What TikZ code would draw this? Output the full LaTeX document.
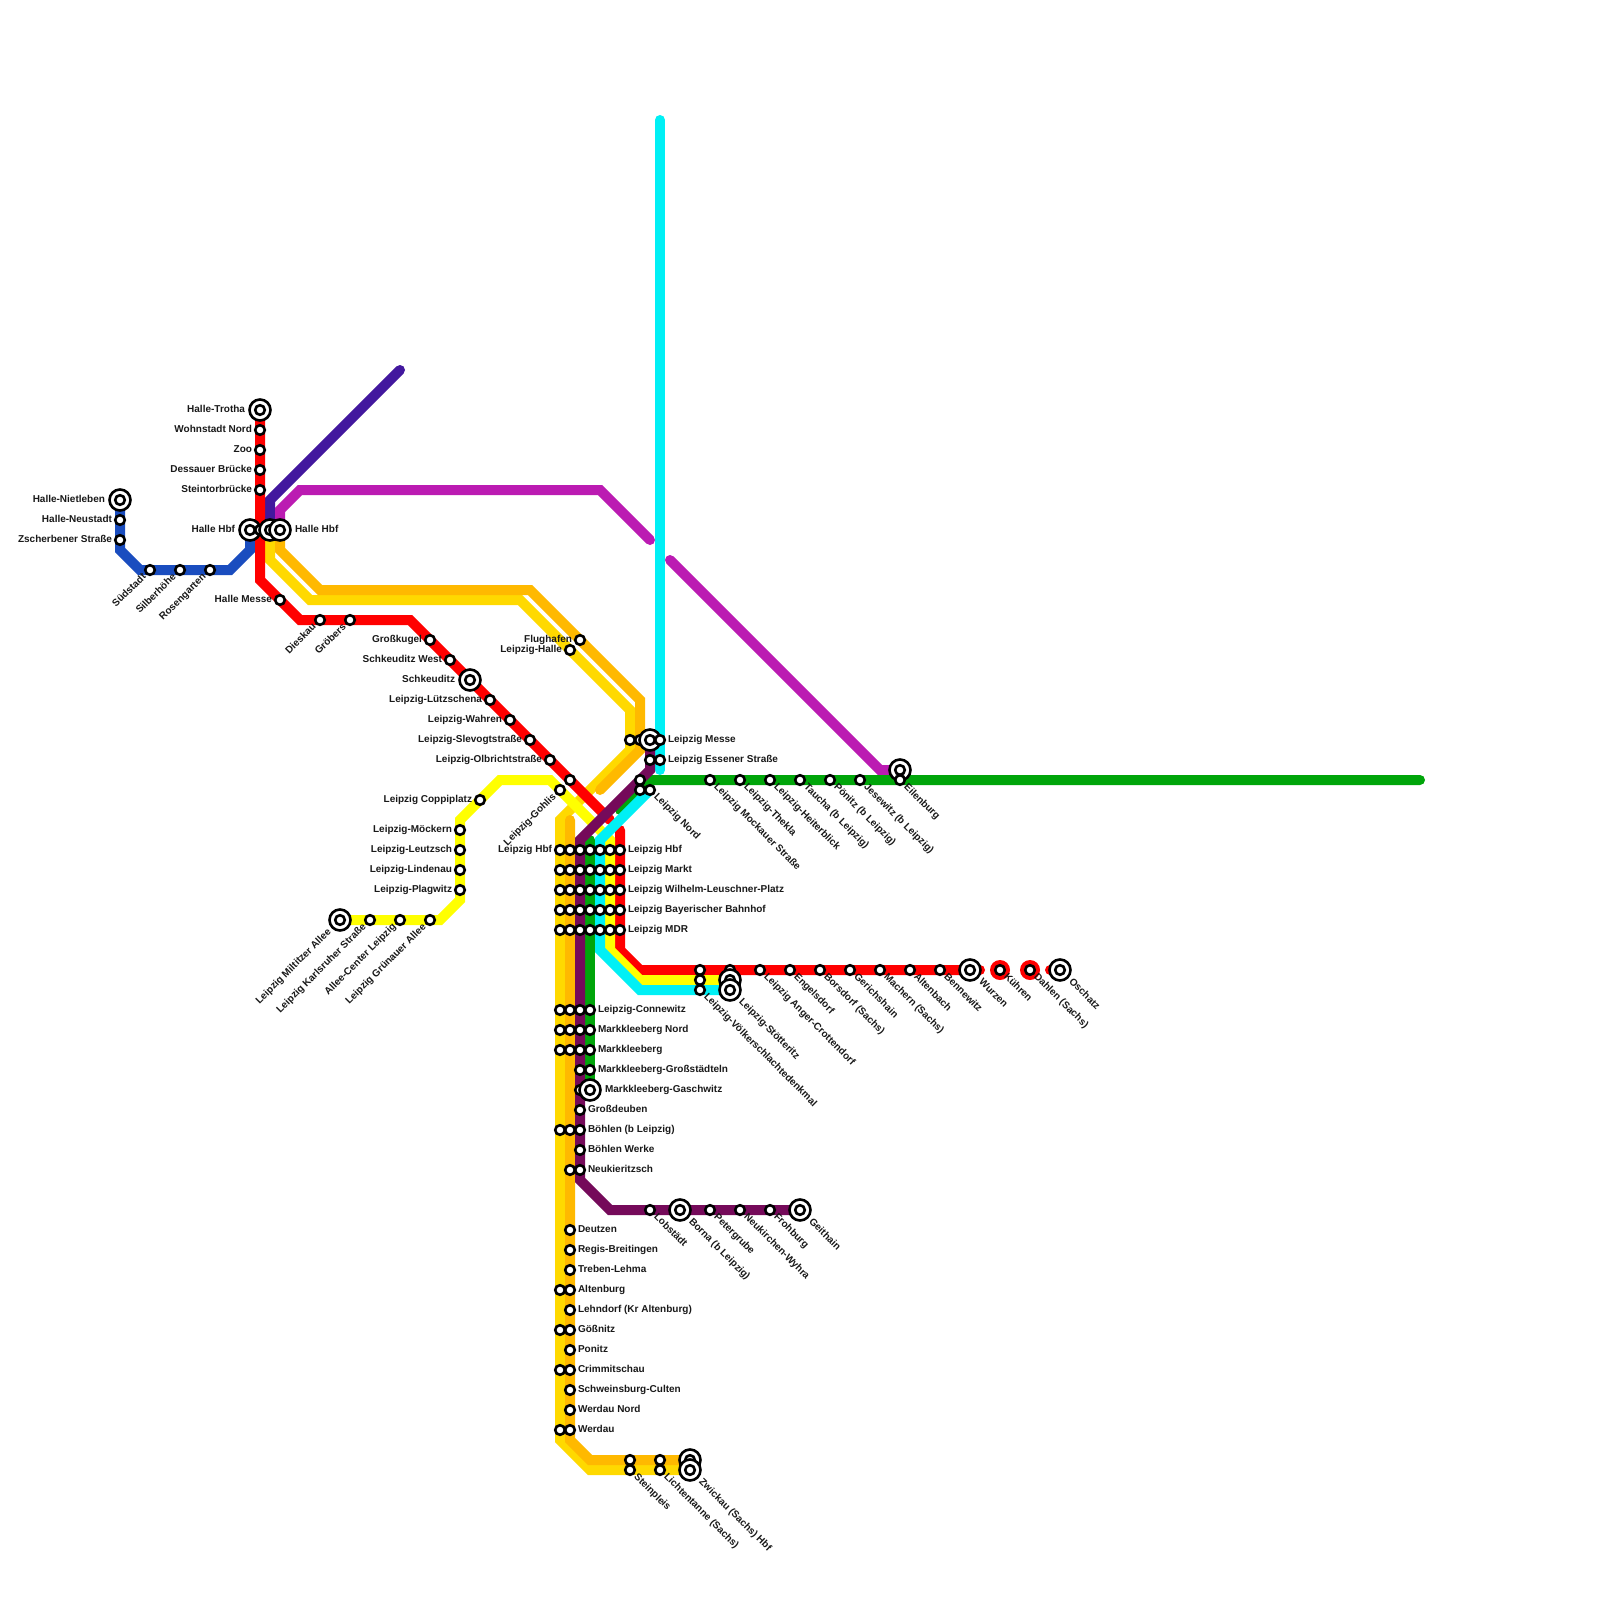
\documentclass[tikz,border=0pt]{standalone}
\usepackage{fontspec}
\setmainfont{Liberation Sans}
\definecolor{cred}{HTML}{FF0000}
\definecolor{cgold}{HTML}{FFD900}
\definecolor{camber}{HTML}{FFB900}
\definecolor{cyel}{HTML}{FFFF00}
\definecolor{ccyan}{HTML}{00F0F5}
\definecolor{cgreen}{HTML}{00A50A}
\definecolor{cpurp}{HTML}{750A5A}
\definecolor{cmag}{HTML}{BB1BB2}
\definecolor{cind}{HTML}{42189E}
\definecolor{cblue}{HTML}{1A4DBF}
\tikzset{
 ln/.style={line width=10pt,line cap=round,line join=miter},
 stn/.style={circle,draw=black,fill=white,line width=2.6pt,minimum size=9.6pt,inner sep=0pt,outer sep=0pt},
 stb/.style={circle,draw=black,fill=white,line width=2.6pt,minimum size=21pt,inner sep=0pt,outer sep=0pt},
 lab/.style={font=\fontsize{10}{11}\selectfont\bfseries,inner sep=0pt,outer sep=0pt,text height=7.5pt,text depth=2pt,text=black!90},
 lw/.style={lab,anchor=east},
 le/.style={lab,anchor=west},
 lu/.style={lab,anchor=east,rotate=45},
 ld/.style={lab,anchor=west,rotate=-45},
}
\newcommand\labW[2]{\node[lw] (#1-l) at ([xshift=-\dA pt]#1.center) {#2};}
\newcommand\labE[2]{\node[le] (#1-l) at ([xshift=\dA pt]#1.center) {#2};}
\newcommand\labU[2]{\node[lu] (#1-l) at ([xshift=-\dB pt,yshift=-\dB pt]#1.center) {#2};}
\newcommand\labD[2]{\node[ld] (#1-l) at ([xshift=\dB pt,yshift=-\dB pt]#1.center) {#2};}
\newcommand\labN[2]{}
\newcommand\Sm[4]{\node[stn] (#1) at (#2) {};\def\dA{8}\def\dB{5.5}\csname lab#3\endcsname{#1}{#4}}
\newcommand\Bg[4]{\node[stb] (#1-o) at (#2) {};\node[stn] (#1) at (#2) {};\def\dA{15}\def\dB{10.5}\csname lab#3\endcsname{#1}{#4}}
\begin{document}
\begin{tikzpicture}[x=1pt,y=-1pt]
\useasboundingbox (0,0) rectangle (1600,1600);
\fill[white] (0,0) rectangle (1600,1600);
% way points
\coordinate (b1) at (120,500);\coordinate (b2) at (120,550);\coordinate (b3) at (140,570);\coordinate (b4) at (230,570);\coordinate (b5) at (250,550);\coordinate (b6) at (250,530);
\coordinate (i1) at (270,530);\coordinate (i2) at (270,500);\coordinate (i3) at (400,370);
\coordinate (m1) at (280,530);\coordinate (m2) at (280,510);\coordinate (m3) at (300,490);\coordinate (m4) at (600,490);\coordinate (m5) at (650,540);
\coordinate (m6) at (670,560);\coordinate (m7) at (880,770);\coordinate (m8) at (900,770);
\coordinate (g1) at (270,530);\coordinate (g2) at (270,560);\coordinate (g3) at (310,600);\coordinate (g4) at (520,600);\coordinate (g5) at (630,710);\coordinate (g6) at (630,750);\coordinate (g7) at (560,820);\coordinate (g8) at (560,1440);\coordinate (g9) at (590,1470);\coordinate (g10) at (690,1470);
\coordinate (a1) at (280,530);\coordinate (a2) at (280,550);\coordinate (a3) at (320,590);\coordinate (a4) at (530,590);\coordinate (a5) at (640,700);\coordinate (a6) at (640,750);\coordinate (a7) at (600,790);
\coordinate (a8) at (570,820);\coordinate (a9) at (570,1440);\coordinate (a10) at (590,1460);\coordinate (a11) at (690,1460);
\coordinate (r1) at (260,410);\coordinate (r2) at (260,580);\coordinate (r3) at (300,620);\coordinate (r4) at (410,620);\coordinate (r5) at (610,820);
\coordinate (r6) at (620,830);\coordinate (r7) at (620,950);\coordinate (r8) at (640,970);\coordinate (r9) at (980,970);\coordinate (r10) at (1050,970);\coordinate (r11) at (1060,970);
\coordinate (y1) at (340,920);\coordinate (y2) at (440,920);\coordinate (y3) at (460,900);\coordinate (y4) at (460,820);\coordinate (y5) at (500,780);\coordinate (y6) at (550,780);\coordinate (y7) at (610,840);\coordinate (y8) at (610,950);\coordinate (y9) at (640,980);\coordinate (y10) at (730,980);
\coordinate (c1) at (660,120);\coordinate (c2) at (660,770);
\coordinate (c3) at (650,790);\coordinate (c4) at (600,840);\coordinate (c5) at (600,950);\coordinate (c6) at (640,990);\coordinate (c7) at (730,990);
\coordinate (n1) at (1420,780);\coordinate (n2) at (650,780);\coordinate (n3) at (620,810);
\coordinate (n4) at (590,840);\coordinate (n5) at (590,1090);
\coordinate (p1) at (650,745);\coordinate (p2) at (650,770);\coordinate (p3) at (580,840);\coordinate (p4) at (580,1180);\coordinate (p5) at (610,1210);\coordinate (p6) at (800,1210);
\coordinate (k1) at (1000,970);\coordinate (k2) at (1030,970);
% lines
\draw[ln,cblue] (b1)--(b2)--(b3)--(b4)--(b5)--(b6);
\draw[ln,cind] (i1)--(i2)--(i3);
\draw[ln,cmag] (m1)--(m2)--(m3)--(m4)--(m5);
\draw[ln,cmag] (m6)--(m7)--(m8);
\draw[ln,cgreen] (n1)--(n2)--(n3);
\draw[ln,cgreen] (n4)--(n5);
\draw[ln,cgold] (g1)--(g2)--(g3)--(g4)--(g5)--(g6)--(g7)--(g8)--(g9)--(g10);
\draw[ln,camber] (a1)--(a2)--(a3)--(a4)--(a5)--(a6)--(a7);
\draw[ln,camber] (a8)--(a9)--(a10)--(a11);
\draw[ln,cred] (r1)--(r2)--(r3)--(r4)--(r5);
\draw[ln,cred] (r6)--(r7)--(r8)--(r9);
\draw[ln,cred] (r10)--(r11);
\fill[cred] (k1) circle (10pt) (k2) circle (10pt);
\draw[ln,cyel] (y1)--(y2)--(y3)--(y4)--(y5)--(y6)--(y7)--(y8)--(y9)--(y10);
\draw[ln,ccyan] (c1)--(c2);
\draw[ln,ccyan] (c3)--(c4)--(c5)--(c6)--(c7);
\draw[ln,cpurp] (p1)--(p2)--(p3)--(p4)--(p5)--(p6);
% stations: Halle
\Bg{hn}{120,500}{W}{Halle-Nietleben}
\Sm{hne}{120,520}{W}{Halle-Neustadt}
\Sm{zs}{120,540}{W}{Zscherbener Straße}
\Sm{sued}{150,570}{U}{Südstadt}
\Sm{silb}{180,570}{U}{Silberhöhe}
\Sm{rose}{210,570}{U}{Rosengarten}
\Bg{ht}{260,410}{W}{Halle-Trotha}
\Sm{wn}{260,430}{W}{Wohnstadt Nord}
\Sm{zoo}{260,450}{W}{Zoo}
\Sm{db}{260,470}{W}{Dessauer Brücke}
\Sm{stb}{260,490}{W}{Steintorbrücke}
\Bg{hh1}{250,530}{W}{Halle Hbf}
\Sm{hh2}{260,530}{N}{}
\Bg{hh3}{270,530}{N}{}
\Bg{hh4}{280,530}{E}{Halle Hbf}
\Sm{hm}{280,600}{W}{Halle Messe}
\Sm{die}{320,620}{U}{Dieskau}
\Sm{gro}{350,620}{U}{Gröbers}
\Sm{gk}{430,640}{W}{Großkugel}
\Sm{sw}{450,660}{W}{Schkeuditz West}
\Bg{sk}{470,680}{W}{Schkeuditz}
\Sm{lz}{490,700}{W}{Leipzig-Lützschena}
\Sm{lwa}{510,720}{W}{Leipzig-Wahren}
\Sm{lsl}{530,740}{W}{Leipzig-Slevogtstraße}
\Sm{lol}{550,760}{W}{Leipzig-Olbrichtstraße}
\Sm{lu}{570,780}{N}{}
\Sm{lgo}{560,790}{U}{Leipzig-Gohlis}
\Sm{fl}{580,640}{W}{Flughafen}
\Sm{lh}{570,650}{W}{Leipzig-Halle}
% yellow west
\Bg{mil}{340,920}{U}{Leipzig Miltitzer Allee}
\Sm{kar}{370,920}{U}{Leipzig Karlsruher Straße}
\Sm{ace}{400,920}{U}{Allee-Center Leipzig}
\Sm{gra}{430,920}{U}{Leipzig Grünauer Allee}
\Sm{pla}{460,890}{W}{Leipzig-Plagwitz}
\Sm{lin}{460,870}{W}{Leipzig-Lindenau}
\Sm{lei}{460,850}{W}{Leipzig-Leutzsch}
\Sm{moe}{460,830}{W}{Leipzig-Möckern}
\Sm{cop}{480,800}{W}{Leipzig Coppiplatz}
% Messe, Nord
\Sm{me1}{630,740}{N}{}
\Sm{me2}{640,740}{N}{}
\Bg{me3}{650,740}{N}{}
\Sm{me4}{660,740}{E}{Leipzig Messe}
\Sm{es1}{650,760}{N}{}
\Sm{es2}{660,760}{E}{Leipzig Essener Straße}
\Sm{no1}{640,780}{N}{}
\Sm{no2}{640,790}{N}{}
\Sm{no3}{650,790}{D}{Leipzig Nord}
% tunnel rows
\Sm{a1x}{560,850}{W}{Leipzig Hbf}
\Sm{a2x}{570,850}{N}{}\Sm{a3x}{580,850}{N}{}\Sm{a4x}{590,850}{N}{}\Sm{a5x}{600,850}{N}{}\Sm{a6x}{610,850}{N}{}
\Sm{a7x}{620,850}{E}{Leipzig Hbf}
\Sm{b1x}{560,870}{N}{}\Sm{b2x}{570,870}{N}{}\Sm{b3x}{580,870}{N}{}\Sm{b4x}{590,870}{N}{}\Sm{b5x}{600,870}{N}{}\Sm{b6x}{610,870}{N}{}
\Sm{b7x}{620,870}{E}{Leipzig Markt}
\Sm{c1x}{560,890}{N}{}\Sm{c2x}{570,890}{N}{}\Sm{c3x}{580,890}{N}{}\Sm{c4x}{590,890}{N}{}\Sm{c5x}{600,890}{N}{}\Sm{c6x}{610,890}{N}{}
\Sm{c7x}{620,890}{E}{Leipzig Wilhelm-Leuschner-Platz}
\Sm{d1x}{560,910}{N}{}\Sm{d2x}{570,910}{N}{}\Sm{d3x}{580,910}{N}{}\Sm{d4x}{590,910}{N}{}\Sm{d5x}{600,910}{N}{}\Sm{d6x}{610,910}{N}{}
\Sm{d7x}{620,910}{E}{Leipzig Bayerischer Bahnhof}
\Sm{e1x}{560,930}{N}{}\Sm{e2x}{570,930}{N}{}\Sm{e3x}{580,930}{N}{}\Sm{e4x}{590,930}{N}{}\Sm{e5x}{600,930}{N}{}\Sm{e6x}{610,930}{N}{}
\Sm{e7x}{620,930}{E}{Leipzig MDR}
% south
\Sm{f1x}{560,1010}{N}{}\Sm{f2x}{570,1010}{N}{}\Sm{f3x}{580,1010}{N}{}
\Sm{f4x}{590,1010}{E}{Leipzig-Connewitz}
\Sm{h1x}{560,1030}{N}{}\Sm{h2x}{570,1030}{N}{}\Sm{h3x}{580,1030}{N}{}
\Sm{h4x}{590,1030}{E}{Markkleeberg Nord}
\Sm{j1x}{560,1050}{N}{}\Sm{j2x}{570,1050}{N}{}\Sm{j3x}{580,1050}{N}{}
\Sm{j4x}{590,1050}{E}{Markkleeberg}
\Sm{k3x}{580,1070}{N}{}
\Sm{k4x}{590,1070}{E}{Markkleeberg-Großstädteln}
\Sm{l3x}{580,1090}{N}{}
\Bg{l4x}{590,1090}{E}{Markkleeberg-Gaschwitz}
\Sm{gd}{580,1110}{E}{Großdeuben}
\Sm{bo1}{560,1130}{N}{}\Sm{bo2}{570,1130}{N}{}
\Sm{bo3}{580,1130}{E}{Böhlen (b Leipzig)}
\Sm{bw}{580,1150}{E}{Böhlen Werke}
\Sm{ne1}{570,1170}{N}{}
\Sm{ne2}{580,1170}{E}{Neukieritzsch}
\Sm{deu}{570,1230}{E}{Deutzen}
\Sm{reg}{570,1250}{E}{Regis-Breitingen}
\Sm{tre}{570,1270}{E}{Treben-Lehma}
\Sm{al1}{560,1290}{N}{}
\Sm{al2}{570,1290}{E}{Altenburg}
\Sm{leh}{570,1310}{E}{Lehndorf (Kr Altenburg)}
\Sm{go1}{560,1330}{N}{}
\Sm{go2}{570,1330}{E}{Gößnitz}
\Sm{pon}{570,1350}{E}{Ponitz}
\Sm{cr1}{560,1370}{N}{}
\Sm{cr2}{570,1370}{E}{Crimmitschau}
\Sm{sch}{570,1390}{E}{Schweinsburg-Culten}
\Sm{wn2}{570,1410}{E}{Werdau Nord}
\Sm{we1}{560,1430}{N}{}
\Sm{we2}{570,1430}{E}{Werdau}
% Zwickau
\Sm{sp1}{630,1460}{N}{}
\Sm{sp2}{630,1470}{D}{Steinpleis}
\Sm{li1}{660,1460}{N}{}
\Sm{li2}{660,1470}{D}{Lichtentanne (Sachs)}
\Bg{zw1}{690,1460}{N}{}
\Bg{zw2}{690,1470}{D}{Zwickau (Sachs) Hbf}
% Geithain
\Sm{lob}{650,1210}{D}{Lobstädt}
\Bg{bor}{680,1210}{D}{Borna (b Leipzig)}
\Sm{pet}{710,1210}{D}{Petergrube}
\Sm{nwy}{740,1210}{D}{Neukirchen-Wyhra}
\Sm{fro}{770,1210}{D}{Frohburg}
\Bg{gei}{800,1210}{D}{Geithain}
% Eilenburg
\Sm{moc}{710,780}{D}{Leipzig Mockauer Straße}
\Sm{the}{740,780}{D}{Leipzig-Thekla}
\Sm{hei}{770,780}{D}{Leipzig-Heiterblick}
\Sm{tau}{800,780}{D}{Taucha (b Leipzig)}
\Sm{poe}{830,780}{D}{Pönitz (b Leipzig)}
\Sm{jes}{860,780}{D}{Jesewitz (b Leipzig)}
\Bg{ei1}{900,770}{N}{}
\Sm{ei2}{900,780}{D}{Eilenburg}
% Wurzen
\Sm{vo1}{700,970}{N}{}
\Sm{vo2}{700,980}{N}{}
\Sm{vo3}{700,990}{D}{Leipzig-Völkerschlachtedenkmal}
\Sm{st1}{730,970}{N}{}
\Bg{st2}{730,980}{N}{}
\Bg{st3}{730,990}{D}{Leipzig-Stötteritz}
\Sm{ang}{760,970}{D}{Leipzig Anger-Crottendorf}
\Sm{eng}{790,970}{D}{Engelsdorf}
\Sm{bsd}{820,970}{D}{Borsdorf (Sachs)}
\Sm{ger}{850,970}{D}{Gerichshain}
\Sm{mac}{880,970}{D}{Machern (Sachs)}
\Sm{alt}{910,970}{D}{Altenbach}
\Sm{ben}{940,970}{D}{Bennewitz}
\Bg{wur}{970,970}{D}{Wurzen}
\Sm{kue}{1000,970}{D}{Kühren}
\Sm{dah}{1030,970}{D}{Dahlen (Sachs)}
\Bg{osc}{1060,970}{D}{Oschatz}
\end{tikzpicture}
\end{document}
